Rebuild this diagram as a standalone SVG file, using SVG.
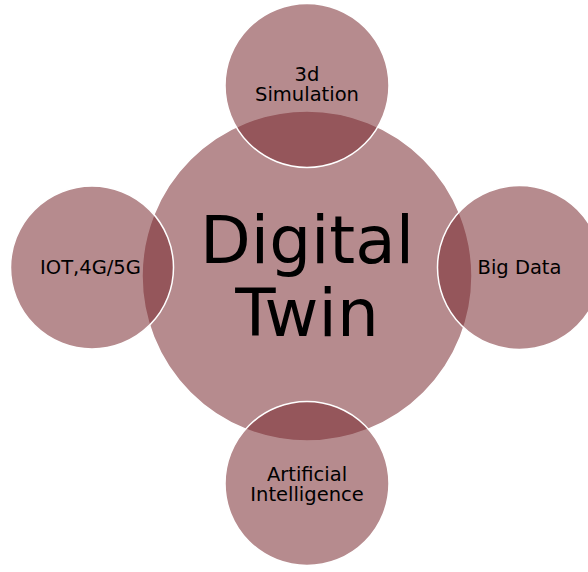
<svg xmlns="http://www.w3.org/2000/svg" width="588" height="572" viewBox="0 0 588 572">
<style>
.c{fill:rgb(122,43,49);fill-opacity:0.55;stroke:#fff;stroke-width:1.5}
.t{font-family:"DejaVu Sans",Verdana,sans-serif;font-size:19.5px;fill:#000;text-anchor:middle}
.big{font-family:"DejaVu Sans",Verdana,sans-serif;font-size:66px;fill:#000;text-anchor:middle}
</style>
<rect width="588" height="572" fill="#fff"/>
<g id="connectors"></g>
<g id="center">
<circle class="c" cx="307" cy="276" r="165"/>
<text class="big" x="307" y="263">Digital</text>
<text class="big" x="307" y="336">Twin</text>
</g>
<g id="top">
<circle class="c" cx="307" cy="85.5" r="82"/>
<text class="t" x="307" y="81">3d</text>
<text class="t" x="307" y="101">Simulation</text>
</g>
<g id="left">
<circle class="c" cx="92" cy="267.5" r="81.5"/>
<text class="t" x="90.5" y="274">IOT,4G/5G</text>
</g>
<g id="right">
<circle class="c" cx="519.5" cy="267.5" r="82"/>
<text class="t" x="519.5" y="274">Big Data</text>
</g>
<g id="bottom">
<circle class="c" cx="307" cy="483.5" r="82"/>
<text class="t" x="307" y="481">Artificial</text>
<text class="t" x="307" y="501">Intelligence</text>
</g>
</svg>
